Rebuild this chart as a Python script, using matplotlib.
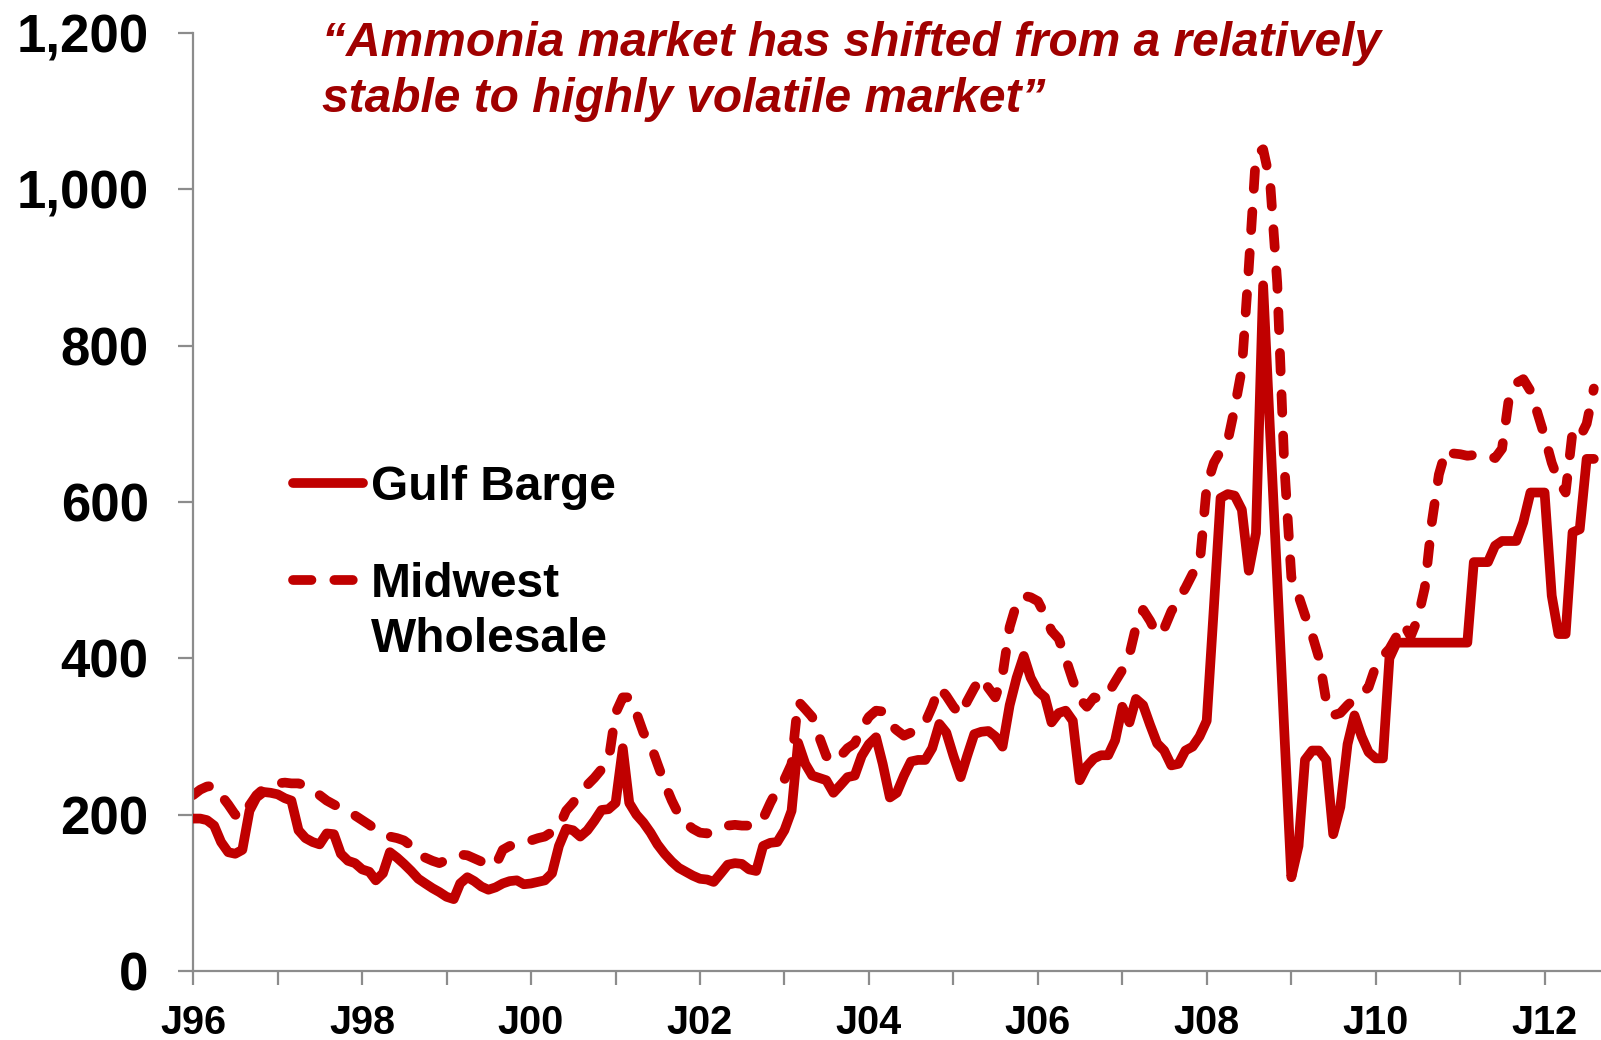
import numpy as np
import pandas as pd
import matplotlib
matplotlib.use("Agg")
import matplotlib.pyplot as plt
import matplotlib.dates as mdates
from matplotlib.lines import Line2D
from matplotlib.ticker import FuncFormatter

# Precios mensuales de amoniaco (USD/t), enero 1996 - agosto 2012
gulf_barge = [
    195, 195, 193, 186, 165, 152, 150, 155, 205, 222, 229, 228,
    226, 221, 218, 180, 170, 165, 162, 176, 175, 150, 141, 138,
    130, 127, 116, 125, 152, 145, 137, 128, 118, 112, 106, 101,
    95, 92, 112, 120, 115, 108, 104, 107, 112, 115, 116, 111,
    112, 114, 116, 125, 160, 182, 180, 172, 180, 192, 206, 207,
    215, 285, 215, 200, 190, 177, 162, 150, 140, 132, 127, 122,
    118, 117, 114, 125, 136, 138, 137, 130, 128, 160, 164, 165,
    180, 205, 292, 265, 250, 247, 244, 228, 238, 248, 250, 275,
    290, 299, 265, 222, 228, 250, 268, 270, 270, 285, 316, 305,
    275, 248, 275, 303, 306, 307, 300, 287, 340, 375, 403, 375,
    358, 350, 318, 330, 333, 320, 244, 262, 272, 276, 276, 295,
    338, 318, 348, 340, 315, 291, 282, 263, 265, 282, 287, 300,
    320, 465, 605, 610, 608, 590, 512, 560, 877, 690, 500, 310,
    120, 160, 270, 282, 282, 270, 175, 210, 290, 327, 300, 280,
    272, 272, 400, 420, 420, 420, 420, 420, 420, 420, 420, 420,
    420, 420, 523, 523, 523, 544, 550, 550, 550, 574, 612, 612,
    612, 480, 431, 431, 561, 565, 655, 655,
]
midwest_wholesale = [
    225, 232, 236, 237, 225, 213, 200, 195, 212, 225, 233, 238,
    240, 241, 240, 240, 237, 229, 225, 218, 213, 208, 203, 199,
    193, 187, 181, 176, 172, 170, 167, 160, 149, 145, 141, 138,
    142, 146, 149, 148, 144, 140, 136, 135, 155, 160, 161, 163,
    167, 170, 172, 178, 184, 205, 215, 228, 238, 247, 258, 268,
    330, 350, 350, 330, 305, 290, 265, 240, 218, 200, 189, 182,
    177, 176, 180, 183, 186, 187, 186, 186, 186, 195, 215, 232,
    245, 265, 345, 335, 325, 299, 275, 267, 275, 285, 291, 310,
    325, 333, 332, 316, 308, 301, 305, 312, 318, 338, 363, 352,
    338, 327, 345, 362, 376, 362, 350, 378, 440, 470, 480, 478,
    473, 455, 435, 425, 400, 372, 348, 338, 350, 347, 355, 370,
    385, 405, 440, 462, 448, 430, 438, 460, 475, 490, 508, 518,
    620, 650, 665, 678, 720, 770, 900, 1044, 1051, 1010, 880, 650,
    504, 480, 455, 430, 400, 345, 327, 330, 340, 348, 355, 363,
    390, 403, 412, 428, 444, 428, 450, 490, 575, 635, 667, 662,
    661, 659, 660, 661, 660, 656, 668, 735, 752, 757, 742, 714,
    684, 650, 627, 612, 690, 682, 700, 745,
]
fechas = pd.date_range("1996-01-01", periods=len(gulf_barge), freq="MS")
y_ticks = [0, 200, 400, 600, 800, 1000, 1200]
titulo = ["\u201cAmmonia market has shifted from a relatively",
          "stable to highly volatile market\u201d"]

rojo = "#C00000"
rojo_titulo = "#A00000"
gris = "#8C8C8C"
fuente = "Liberation Sans"
H = 1040.0  # alto de la figura en px

fig = plt.figure(figsize=(16.01, 10.40), dpi=100)
ax = fig.add_axes([0.1206, 0.0663, 0.8794, 0.9022])

ax.plot(fechas, gulf_barge, color=rojo, lw=7, solid_joinstyle="round",
        solid_capstyle="round", zorder=3)
ax.plot(fechas, midwest_wholesale, color=rojo, lw=7, dashes=(1.9, 2.35),
        dash_capstyle="round", dash_joinstyle="round", zorder=2)

ax.set_ylim(0, 1200)
ax.set_xlim(pd.Timestamp("1996-01-01"), pd.Timestamp("2012-09-01"))
ax.set_yticks(y_ticks)
ax.yaxis.set_major_formatter(FuncFormatter(lambda v, p: f"{v:,.0f}"))
ax.xaxis.set_major_locator(mdates.YearLocator(1))
ax.xaxis.set_major_formatter(FuncFormatter(
    lambda v, p: ("J" + mdates.num2date(v).strftime("%y"))
    if mdates.num2date(v).year % 2 == 0 else ""))

for lado in ["top", "right"]:
    ax.spines[lado].set_visible(False)
for lado in ["left", "bottom"]:
    ax.spines[lado].set_color(gris)
    ax.spines[lado].set_linewidth(1.6)

ax.tick_params(axis="y", direction="out", length=11, width=1.6, color=gris,
               pad=21, labelsize=38)
ax.tick_params(axis="x", direction="out", length=10, width=1.6, color=gris,
               pad=14, labelsize=28.5)
for lab in ax.get_xticklabels() + ax.get_yticklabels():
    lab.set_fontfamily(fuente)
    lab.set_fontweight("bold")

# Título en cursiva, dos líneas
for texto, base in zip(titulo, [56, 112]):
    fig.text(0.201, 1 - base / H, texto, color=rojo_titulo, fontsize=34.5,
             fontfamily=fuente, fontweight="bold", fontstyle="italic",
             va="baseline", ha="left")

# Leyenda
leyenda = [
    (["Gulf Barge"], "-", 483, [500]),
    (["Midwest", "Wholesale"], "--", 580, [597, 652]),
]
for lineas, estilo, y_linea, bases in leyenda:
    yy = 1 - y_linea / H
    if estilo == "-":
        ln = Line2D([0.183, 0.2265], [yy, yy], transform=fig.transFigure,
                    color=rojo, lw=7, solid_capstyle="round")
    else:
        ln = Line2D([0.183, 0.2265], [yy, yy], transform=fig.transFigure,
                    color=rojo, lw=7, dashes=(1.9, 2.35), dash_capstyle="round")
    fig.add_artist(ln)
    for texto, base in zip(lineas, bases):
        fig.text(0.2315, 1 - base / H, texto, fontsize=34.5, fontfamily=fuente,
                 fontweight="bold", va="baseline", ha="left")

fig.savefig("out.png", dpi=100)
